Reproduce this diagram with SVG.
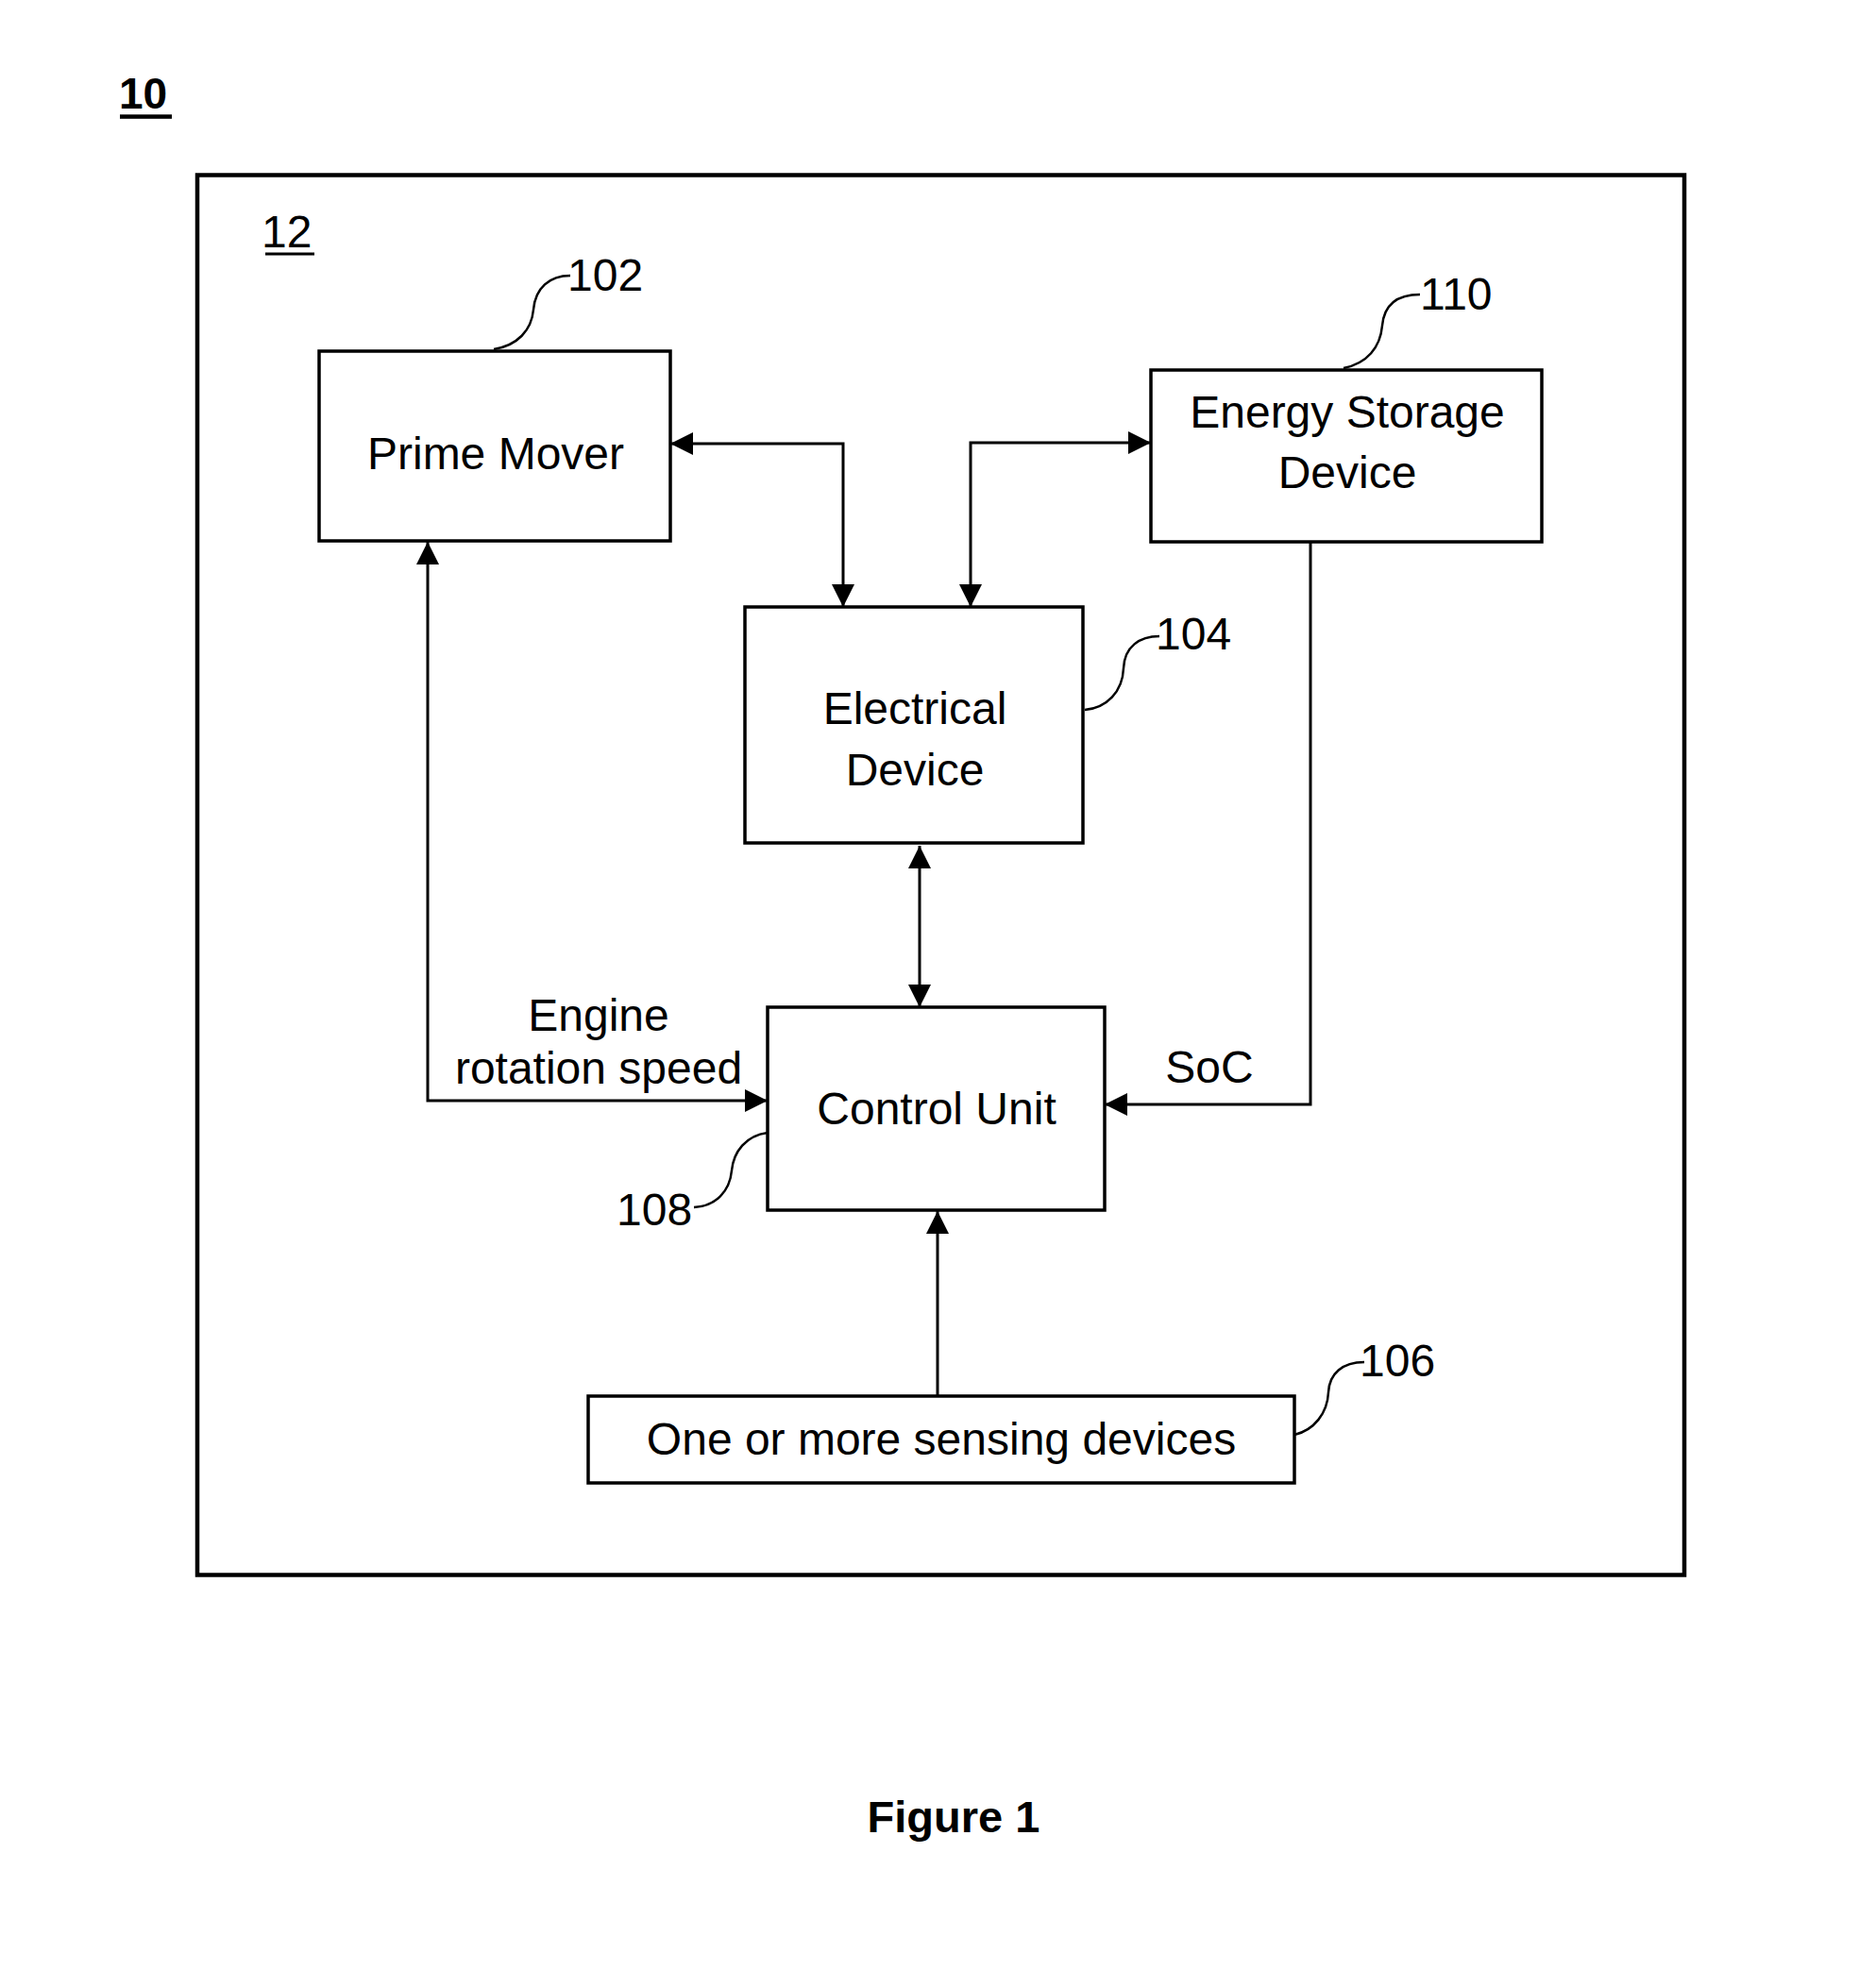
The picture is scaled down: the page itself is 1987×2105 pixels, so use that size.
<svg xmlns="http://www.w3.org/2000/svg" width="1987" height="2105" viewBox="0 0 1987 2105">
<style>
text{font-family:"Liberation Sans",Arial,sans-serif;font-size:48px;fill:#000}
.c{text-anchor:middle}
.b{font-weight:bold;font-size:46px}
.box{fill:#fff;stroke:#000;stroke-width:3.5}
.con{fill:none;stroke:#000;stroke-width:3}
.lead{fill:none;stroke:#000;stroke-width:2.5}
</style>
<defs>
<marker id="ah" markerUnits="userSpaceOnUse" markerWidth="24" markerHeight="24" refX="24" refY="12" orient="auto-start-reverse" viewBox="0 0 24 24">
<path d="M0,0 L24,12 L0,24 Z" fill="#000"/>
</marker>
</defs>
<rect width="1987" height="2105" fill="#fff"/>
<g id="label10">
<text class="b" x="126" y="115">10</text>
<rect x="127" y="121.3" width="55" height="4.5" fill="#000"/>
</g>
<g id="system12">
<rect x="209" y="185.5" width="1575" height="1483" fill="none" stroke="#000" stroke-width="4.5"/>
<text x="277" y="262">12</text>
<rect x="281" y="267.5" width="52" height="3" fill="#000"/>
</g>
<g id="connectors">
<path class="con" d="M710,470 H893 V643" marker-start="url(#ah)" marker-end="url(#ah)"/>
<path class="con" d="M1219,469 H1028 V643" marker-start="url(#ah)" marker-end="url(#ah)"/>
<path class="con" d="M974,896 V1067" marker-start="url(#ah)" marker-end="url(#ah)"/>
<path class="con" d="M453,574 V1166 H813" marker-start="url(#ah)" marker-end="url(#ah)"/>
<path class="con" d="M1388,573 V1170 H1170" marker-end="url(#ah)"/>
<path class="con" d="M993,1479 V1283" marker-end="url(#ah)"/>
<text class="c" x="634" y="1092">Engine</text>
<text class="c" x="634" y="1148">rotation speed</text>
<text class="c" x="1281" y="1147">SoC</text>
</g>
<g id="prime-mover">
<rect class="box" x="338" y="372" width="372" height="201"/>
<text class="c" x="525" y="497">Prime Mover</text>
<path class="lead" d="M523,370 C548,366 563,350 565,328 C567,305 582,292 604,292"/>
<text x="601" y="308">102</text>
</g>
<g id="energy-storage">
<rect class="box" x="1219" y="392" width="414" height="182"/>
<text class="c" x="1427" y="453">Energy Storage</text>
<text class="c" x="1427" y="517">Device</text>
<path class="lead" d="M1423,390 C1448,385 1462,368 1464,345 C1466,323 1480,312 1504,312"/>
<text x="1504" y="328">110</text>
</g>
<g id="electrical-device">
<rect class="box" x="789" y="643" width="358" height="250"/>
<text class="c" x="969" y="767">Electrical</text>
<text class="c" x="969" y="832">Device</text>
<path class="lead" d="M1149,752 C1172,750 1189,733 1190,708 C1191,685 1207,674 1228,674"/>
<text x="1224" y="688">104</text>
</g>
<g id="control-unit">
<rect class="box" x="813" y="1067" width="357" height="215"/>
<text class="c" x="992" y="1191">Control Unit</text>
<path class="lead" d="M813,1200 C790,1203 777,1220 775,1240 C773,1262 758,1278 735,1279"/>
<text x="653" y="1298">108</text>
</g>
<g id="sensing-devices">
<rect class="box" x="623" y="1479" width="748" height="92"/>
<text class="c" x="997" y="1541">One or more sensing devices</text>
<path class="lead" d="M1371,1520 C1392,1515 1406,1497 1407,1475 C1408,1455 1422,1443 1445,1443"/>
<text x="1440" y="1458">106</text>
</g>
<g id="caption">
<text class="c b" x="1010" y="1941" style="font-size:47px">Figure 1</text>
</g>
</svg>
